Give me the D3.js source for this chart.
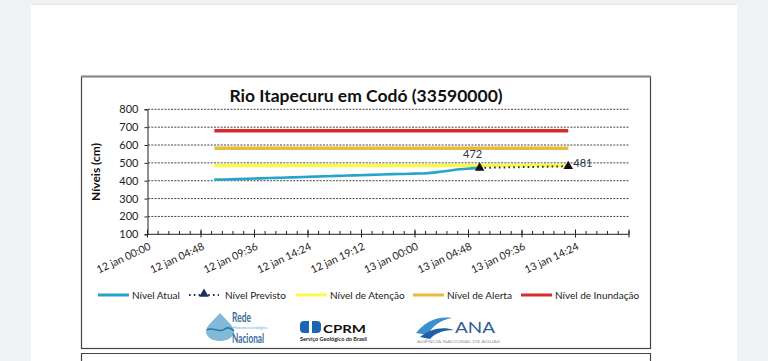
<!DOCTYPE html>
<html><head><meta charset="utf-8">
<script src="https://cdn.jsdelivr.net/npm/d3@7"></script>
<style>
html,body{margin:0;padding:0;background:#f1f2f4;}
svg{display:block;}
text{font-family:Lato,"Open Sans",sans-serif;}
</style></head>
<body>
<svg id="c" width="768" height="361"></svg>
<script>
// ---- data ----
const title = "Rio Itapecuru em Codó (33590000)";
const yLabel = "Níveis (cm)";
const yTicks = [100,200,300,400,500,600,700,800];
const xTickLabels = ["12 jan 00:00","12 jan 04:48","12 jan 09:36","12 jan 14:24","12 jan 19:12","13 jan 00:00","13 jan 04:48","13 jan 09:36","13 jan 14:24"];
const atualTimes = ["2022-01-12T06:00","2022-01-12T07:00","2022-01-12T08:00","2022-01-12T09:00","2022-01-12T10:00","2022-01-12T11:00","2022-01-12T12:00","2022-01-12T13:00","2022-01-12T14:00","2022-01-12T15:00","2022-01-12T16:00","2022-01-12T17:00","2022-01-12T18:00","2022-01-12T19:00","2022-01-12T20:00","2022-01-12T21:00","2022-01-12T22:00","2022-01-12T23:00","2022-01-13T00:00","2022-01-13T01:00","2022-01-13T02:00","2022-01-13T03:00","2022-01-13T04:00","2022-01-13T05:00","2022-01-13T05:48"];
const atualValues = [406,407,409,411,413,415,417,419,421,423,425,427,429,431,433,435,437,438,440,442,448,456,464,469,472];
const previstoTimes = ["2022-01-13T05:48","2022-01-13T13:45"];
const previstoValues = [472,481];
const cotaTimes = ["2022-01-12T06:00","2022-01-13T13:45"];
const atencao = 485;
const alerta = 582;
const inundacao = 680;
const legendLabels = ["Nível Atual","Nível Previsto","Nível de Atenção","Nível de Alerta","Nível de Inundação"];

const parse = d3.timeParse("%Y-%m-%dT%H:%M");
const svg = d3.select("#c");

// page
svg.append("rect").attr("x",31).attr("y",5).attr("width",706).attr("height",360).attr("fill","#fff");
svg.append("line").attr("x1",31).attr("x2",737).attr("y1",4.5).attr("y2",4.5).attr("stroke","#e6e7ea");
// chart box
svg.append("rect").attr("x",81.5).attr("y",76.5).attr("width",569).attr("height",272)
  .attr("fill","none").attr("stroke","#444").attr("stroke-width",1.2);
svg.append("path").attr("d","M81.5,361 V353.5 H650.5 V361").attr("fill","none").attr("stroke","#444").attr("stroke-width",1.2);
svg.append("line").attr("x1",81).attr("x2",651).attr("y1",76.5).attr("y2",76.5).attr("stroke","#888").attr("stroke-width",2);

// scales
const t0 = parse("2022-01-12T00:00");
const tEnd = d3.timeMinute.offset(t0, 9*288);
const x = d3.scaleTime().domain([t0,tEnd]).range([147.5,629]);
const y = d3.scaleLinear().domain([100,800]).range([234.3,109.3]);

// title
svg.append("text").attr("x",366).attr("y",102).attr("text-anchor","middle")
  .attr("font-size",17.5).attr("font-weight","bold").attr("fill","#111").text(title);
svg.append("text").attr("transform","translate(100,172) rotate(-90)").attr("text-anchor","middle")
  .attr("font-size",12).attr("font-weight","bold").attr("fill","#111").text(yLabel);

// grid
svg.append("g").selectAll("line").data(yTicks.filter(d=>d>100)).join("line")
  .attr("x1",148).attr("x2",629).attr("y1",d=>y(d)).attr("y2",d=>y(d))
  .attr("stroke","#444").attr("stroke-width",1).attr("stroke-dasharray","2,1.3");

// y axis
const gy = svg.append("g").attr("transform","translate(147.5,0)")
  .call(d3.axisLeft(y).tickValues(yTicks).tickSize(3).tickFormat(d3.format("d")));
gy.select(".domain").attr("stroke","#222");
gy.selectAll(".tick line").attr("stroke","#222");
gy.selectAll("text").attr("font-size",11).attr("fill","#222").attr("font-family","Lato,sans-serif").attr("dx",-3);

// x axis
const majors = d3.range(10).map(i=>d3.timeMinute.offset(t0,i*288));
const minors = d3.range(46).map(i=>d3.timeMinute.offset(t0,i*57.6));
const gx = svg.append("g");
gx.append("line").attr("x1",147.5).attr("x2",629).attr("y1",234.3).attr("y2",234.3).attr("stroke","#222");
gx.selectAll(".mn").data(minors).join("line").attr("class","mn")
  .attr("x1",d=>x(d)).attr("x2",d=>x(d)).attr("y1",231).attr("y2",234.3).attr("stroke","#222");
gx.selectAll(".mj").data(majors).join("line").attr("class","mj")
  .attr("x1",d=>x(d)).attr("x2",d=>x(d)).attr("y1",229.5).attr("y2",237.5).attr("stroke","#222");
gx.selectAll(".lb").data(xTickLabels).join("text").attr("class","lb")
  .attr("transform",(d,i)=>`translate(${x(majors[i])+4},${249}) rotate(-25)`)
  .attr("text-anchor","end").attr("font-size",10.5).attr("fill","#222").text(d=>d);

// threshold lines
const line = d3.line().x(d=>x(d[0])).y(d=>y(d[1]));
const cotas = [[inundacao,"#d92a2c"],[alerta,"#e8bb3c"],[atencao,"#fafa4a"]];
cotas.forEach(([v,c])=>{
  svg.append("path").datum(cotaTimes.map(t=>[parse(t),v])).attr("d",line)
    .attr("fill","none").attr("stroke",c).attr("stroke-width",3.5);
});

// atual
svg.append("path").datum(atualTimes.map((t,i)=>[parse(t),atualValues[i]])).attr("d",line.curve(d3.curveMonotoneX))
  .attr("fill","none").attr("stroke","#25a5c9").attr("stroke-width",2.6);
line.curve(d3.curveLinear);

// previsto
const prev = previstoTimes.map((t,i)=>[parse(t),previstoValues[i]]);
svg.append("path").datum(prev).attr("d",line).attr("fill","none")
  .attr("stroke","#1f2f5c").attr("stroke-width",2).attr("stroke-dasharray","1.6,3.2");
const tri = d3.symbol().type(d3.symbolTriangle).size(40);
svg.selectAll(".mk").data(prev).join("path").attr("class","mk")
  .attr("transform",d=>`translate(${x(d[0])},${y(d[1])})`).attr("d",tri).attr("fill","#111");
svg.append("text").attr("x",x(prev[0][0])-7).attr("y",y(prev[0][1])-10).attr("text-anchor","middle")
  .attr("font-size",11).attr("fill","#2b3550").text(previstoValues[0]);
svg.append("text").attr("x",x(prev[1][0])+5).attr("y",y(prev[1][1])+1).attr("text-anchor","start")
  .attr("font-size",11).attr("fill","#2b3550").text(previstoValues[1]);

// legend
const lgX = [98,189,296,413,521];
const lgC = ["#25a5c9","#1f2f5c","#fafa4a","#e8bb3c","#d92a2c"];
const ly = 295;
legendLabels.forEach((lab,i)=>{
  const g = svg.append("g");
  if(i===1){
    g.append("line").attr("x1",lgX[i]).attr("x2",lgX[i]+30).attr("y1",ly).attr("y2",ly)
      .attr("stroke",lgC[i]).attr("stroke-width",2).attr("stroke-dasharray","1.6,3.2");
    g.append("path").attr("transform",`translate(${lgX[i]+15},${ly-1})`).attr("d",tri).attr("fill","#1f2f5c");
  } else {
    g.append("line").attr("x1",lgX[i]).attr("x2",lgX[i]+31).attr("y1",ly).attr("y2",ly)
      .attr("stroke",lgC[i]).attr("stroke-width",3);
  }
  g.append("text").attr("x",lgX[i]+(i===1?36:34)).attr("y",ly+3.5).attr("font-size",10).attr("fill","#222").text(lab);
});

// logos
const lg = svg.append("g");
const fit = (sel,w)=>sel.attr("textLength",w).attr("lengthAdjust","spacingAndGlyphs");
// Rede drop icon
lg.append("path").attr("d","M220,313 C213,321 206,326 206,331 C206,337 212,341 220,341 C228,341 234,337 234,331 C234,326 227,321 220,313 Z")
  .attr("fill","#6aaed0").attr("opacity",0.85);
lg.append("path").attr("d","M207,330 C213,326 219,334 225,329 C229,326 232,329 234,331").attr("fill","none").attr("stroke","#2b78a8").attr("stroke-width",1.6);
fit(lg.append("text").attr("x",232).attr("y",322).attr("font-size",13).attr("font-weight","bold").attr("font-family","'Liberation Sans Narrow',Arial,sans-serif").attr("fill","#3b6f9c").text("Rede"),19);
fit(lg.append("text").attr("x",233).attr("y",329.2).attr("font-size",4).attr("fill","#5fb0d8").text("Hidrometeorológica"),34);
fit(lg.append("text").attr("x",232).attr("y",342.5).attr("font-size",13).attr("font-weight","bold").attr("font-family","'Liberation Sans Narrow',Arial,sans-serif").attr("fill","#3b6f9c").text("Nacional"),32);
// CPRM icon
lg.append("path").attr("d","M304,321 h5 v12 h-5 a4,4 0 0 1 -4,-4 v-4 a4,4 0 0 1 4,-4 z").attr("fill","#1a66b0");
lg.append("path").attr("d","M312,321 h5 a4,4 0 0 1 4,4 v4 a4,4 0 0 1 -4,4 h-5 z").attr("fill","#1a66b0");
fit(lg.append("text").attr("x",323).attr("y",333).attr("font-size",11).attr("font-weight","bold").attr("font-family","'DejaVu Sans',sans-serif").attr("fill","#111").text("CPRM"),43);
fit(lg.append("text").attr("x",300).attr("y",341).attr("font-size",5.2).attr("font-weight","bold").attr("font-family","'DejaVu Sans',sans-serif").attr("fill","#222").text("Serviço Geológico do Brasil"),67);
// ANA icon
lg.append("path").attr("d","M416,333 C425,322 437,316 452,318 C440,320 432,326 428,335 Z").attr("fill","#3d8fd0");
lg.append("path").attr("d","M420,337 C430,329 442,326 454,330 C442,330 434,334 430,339 Z").attr("fill","#1f5fa6");
fit(lg.append("text").attr("x",455).attr("y",333).attr("font-size",15).attr("font-family","'Liberation Sans',Arial,sans-serif").attr("fill","#2b5d9a").text("ANA"),40);
fit(lg.append("text").attr("x",417).attr("y",343).attr("font-size",4.6).attr("fill","#8a98a8").text("AGÊNCIA NACIONAL DE ÁGUAS"),83);
</script>
</body></html>
